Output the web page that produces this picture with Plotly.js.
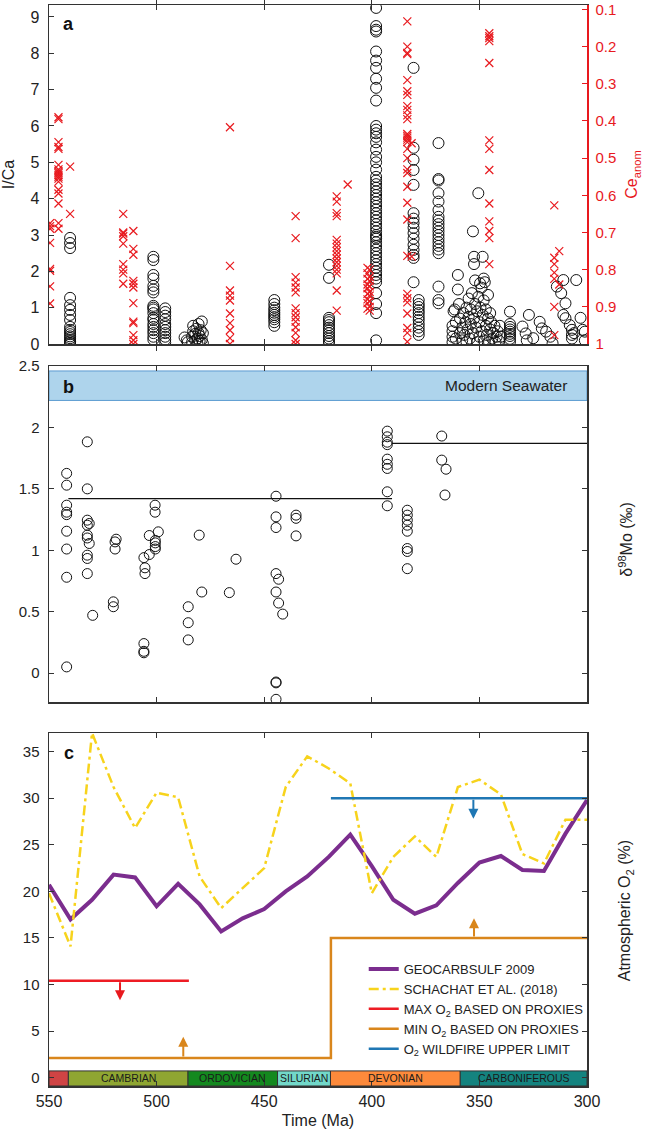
<!DOCTYPE html>
<html><head><meta charset="utf-8">
<script src="https://cdn.plot.ly/plotly-3.0.1.min.js"></script>
<style>html,body{margin:0;padding:0;background:#fff}#chart{width:647px;height:1132px}</style>
</head><body><div id="chart"></div>
<script>
// ---------------- Panel a: I/Ca (open circles, left axis) ----------------
const icaColumnAges = [540.2, 501.5, 496.0, 445.3, 419.9, 398.0, 380.6, 378.2, 369.0, 335.8];
const icaColumnValues = [
  [2.92,2.78,2.64,1.27,1.07,0.94,0.80,0.66,0.47,0.39,0.33,0.27,0.21,0.16,0.11,0.07,0.03,0.0],
  [2.40,2.31,1.90,1.80,1.60,1.50,1.42,1.05,1.00,0.95,0.85,0.72,0.66,0.55,0.47,0.38,0.30,0.20,0.12],
  [0.98,0.88,0.78,0.68,0.55,0.47,0.38,0.30,0.20,0.12,0.04],
  [1.21,1.10,1.00,0.93,0.86,0.80,0.74,0.68,0.60,0.50],
  [2.18,1.82,0.72,0.66,0.60,0.52,0.45,0.38,0.30,0.22,0.15,0.08,0.02],
  [9.25,8.75,8.65,8.60,8.05,7.80,7.60,7.30,7.05,6.70,6.00,5.90,5.80,5.70,5.55,5.35,5.15,5.00,4.80,4.60,4.50,4.40,4.30,4.20,4.10,4.00,3.90,3.80,3.70,3.60,3.50,3.40,3.30,3.20,3.10,3.00,2.95,2.90,2.80,2.70,2.60,2.50,2.40,2.30,2.20,2.10,2.00,1.90,1.80,1.70,1.40,1.10,0.85,0.10],
  [7.60,5.40,5.07,4.79,4.38,3.60,3.45,3.33,3.20,3.05,2.90,2.73,2.59,2.45,2.37,1.70],
  [1.21,1.10,1.02,0.93,0.85,0.75,0.66,0.55,0.45,0.35,0.25],
  [5.53,4.54,4.50,4.15,3.92,3.69,3.50,3.40,3.30,3.20,3.10,3.00,2.90,2.80,2.70,2.60,2.50,1.58,1.21,1.12],
  [0.89,0.55,0.47,0.40,0.34,0.28,0.22,0.14,0.06]
];
const icaScatterAges = [
  487,486,485.5,483.5,483.5,483,483,482,482,481.5,481,481,480.5,480.5,480,480,479.5,479,479,478.5,478.5,
  362.5,362.5,362.5,362.5,362,361.5,361,361,360,360,359.5,359,359,358,358,357.5,357,356.5,356,356,355.5,355,355,354.5,354,354,353.5,353,353,352.5,352.5,352.5,352,352,351.5,351,351,350.5,350.5,350,350,349.7,349.5,349,349,348.5,348.5,348,348,348,347.5,347,347,346.5,346,346,345.5,345,345,344.5,344,343.5,343,342.5,342,341.5,341,340.5,340,
  330,328.5,327,328,325,322,321,319,317,316,314,312,311,310,311,310,308,307,307,307,306,305,303,302,301,301
];
const icaScatterValues = [
  0.18,0.10,0.05,0.05,0.20,0.35,0.50,0.10,0.28,0.42,0.0,0.15,0.30,0.55,0.08,0.22,0.38,0.62,0.12,0.02,0.30,
  0.05,0.20,0.35,0.50,0.90,0.95,0.60,0.15,1.90,1.50,1.10,0.30,0.70,0.45,0.10,0.85,0.25,0.60,1.00,0.05,0.40,0.75,1.25,0.15,0.55,0.95,1.40,3.10,0.30,0.70,2.20,2.40,1.10,1.75,0.45,0.05,0.90,4.15,1.30,0.60,0.20,1.67,1.00,1.55,0.35,2.40,0.80,1.20,0.10,1.80,1.70,0.50,0.95,0.25,0.70,1.35,0.05,0.40,0.85,0.60,0.15,0.30,0.50,0.05,0.20,0.35,0.10,0.50,0.20,
  0.48,0.29,0.80,0.10,0.16,0.61,0.43,0.34,0.20,0.02,1.58,1.40,1.76,1.12,0.80,0.71,0.52,0.39,0.25,0.15,0.30,1.76,0.72,0.39,0.34,0.10
];

// ---------------- Panel a: Ce anomaly (red crosses, right axis, reversed) ----------------
const ceColumnAges = [549.5, 545.6, 540.2, 515.5, 510.8, 465.9, 435.4, 416.3, 402.0, 401.0, 383.5, 345.4, 315.2];
const ceColumnValues = [
  [0.675,0.683,0.69,0.728,0.798,0.803,0.845,0.891],
  [0.39,0.395,0.457,0.47,0.475,0.518,0.53,0.535,0.54,0.545,0.55,0.555,0.563,0.585,0.595,0.622,0.675,0.69],
  [0.523,0.65],
  [0.65,0.70,0.703,0.71,0.73,0.785,0.80,0.81,0.838],
  [0.696,0.744,0.76,0.83,0.838,0.848,0.89,0.94,0.944,0.976,0.99,1.0],
  [0.417,0.79,0.856,0.87,0.883,0.918,0.944,0.963,0.984,1.0],
  [0.656,0.715,0.82,0.835,0.848,0.861,0.904,0.917,0.928,0.94,0.955,0.97,0.99,1.0],
  [0.603,0.617,0.648,0.656,0.72,0.73,0.74,0.75,0.76,0.77,0.78,0.79,0.80,0.81,0.856,0.91],
  [0.795,0.81,0.825,0.84,0.85,0.865,0.88,0.89,0.905],
  [0.80,0.82,0.83,0.845,0.86,0.87,0.885,0.90,0.91],
  [0.132,0.2,0.217,0.22,0.29,0.32,0.33,0.36,0.37,0.385,0.395,0.435,0.44,0.445,0.45,0.457,0.475,0.50,0.53,0.54,0.577,0.62,0.665,0.763,0.865,0.877,0.888,0.918,0.957,0.97,0.994],
  [0.164,0.172,0.177,0.185,0.244,0.452,0.475,0.532,0.622,0.67,0.696,0.715,0.785],
  [0.627,0.768,0.785,0.808,0.825,0.90,0.976]
];
const ceScatterAges = [411.2, 381.5, 381.5, 312.9, 312.9];
const ceScatterValues = [0.571, 0.46, 0.765, 0.75, 0.84];
const ceTicks = [0.1,0.2,0.3,0.4,0.5,0.6,0.7,0.8,0.9,1];

// ---------------- Panel b: Mo isotopes ----------------
const moAges = [
  541.8,541.8,541.8,541.8,541.8,541.8,541.8,541.8,541.8,
  532.2,532.2,532.2,532.2,532.2,532.2,532.2,532.2,532.2,531.3,531.3,529.7,
  520.1,520.1,519.3,519.3,518.8,
  505.9,505.9,505.9,505.9,505.4,505.4,503.4,503.4,500.7,500.7,500.6,500.6,500.6,500.6,499.2,
  485.3,485.3,485.3,480.2,479.0,466.2,463.1,
  444.5,444.5,444.5,444.5,444.5,444.5,444.5,444.5,443.3,443.3,441.4,435.2,435.2,435.2,
  392.8,392.8,392.8,392.8,392.8,392.8,392.8,392.8,392.8,
  383.5,383.5,383.5,383.5,383.5,383.5,383.5,383.5,
  367.5,367.5,365.5,366.0
];
const moValues = [
  1.626,1.53,1.367,1.31,1.29,1.155,1.01,0.78,0.05,
  1.883,1.50,1.245,1.204,1.123,1.10,0.96,0.933,0.81,1.218,1.055,0.47,
  0.58,0.54,1.01,1.068,1.09,
  0.24,0.177,0.165,0.94,0.857,0.81,0.965,1.12,1.367,1.31,1.08,1.06,1.03,1.01,1.15,
  0.54,0.41,0.27,1.123,0.66,0.655,0.927,
  1.44,1.272,1.185,0.81,0.66,-0.073,-0.08,-0.214,0.764,0.57,0.48,1.286,1.26,1.117,
  1.97,1.924,1.88,1.86,1.742,1.70,1.666,1.476,1.362,
  1.326,1.286,1.245,1.204,1.155,1.014,0.99,0.85,
  1.93,1.734,1.66,1.45
];
const moMeanStart = [541.0, 390.6];
const moMeanEnd = [390.6, 300.0];
const moMeanValue = [1.42, 1.87];
const modernSeawater = [2.22, 2.46];

// ---------------- Panel c: atmospheric O2 ----------------
const o2Ages = [550,540,530,520,510,500,490,480,470,460,450,440,430,420,410,400,390,380,370,360,350,340,330,320,310,300];
const geocarbsulf = [20.7,17.0,19.1,21.8,21.5,18.4,20.8,18.6,15.7,17.1,18.1,20.0,21.6,23.7,26.1,22.7,19.1,17.6,18.5,20.9,23.1,23.8,22.3,22.2,26.2,29.8];
const schachat = [19.8,14.1,37.0,31.2,26.8,30.6,30.1,21.6,18.2,20.3,22.5,31.2,34.5,33.2,31.6,19.8,23.7,25.9,23.7,31.2,32.0,30.4,24.0,23.0,27.7,27.7];
const maxO2Ages = [550, 485];
const maxO2 = [10.4, 10.4];
const minO2Ages = [550, 419, 419, 300];
const minO2 = [2.1, 2.1, 15.0, 15.0];
const wildfireAges = [419, 300];
const wildfire = [30, 30];
// arrows: age, start value, end value
const arrowAges = [517, 487.6, 352.5, 352.8];
const arrowFrom = [10.4, 2.1, 15.0, 30.0];
const arrowTo = [8.3, 4.4, 17.1, 27.8];
const periodNames = ['', 'CAMBRIAN', 'ORDOVICIAN', 'SILURIAN', 'DEVONIAN', 'CARBONIFEROUS'];
const periodStart = [550, 541, 485.4, 443.8, 419.2, 358.9];
const periodEnd = [541, 485.4, 443.8, 419.2, 358.9, 300];

// ---------------- styles ----------------
const periodColors = ['#cf4444', '#8fa632', '#14891f', '#72d8c9', '#fd8a3b', '#14837f'];
const arrowColors = ['#e8191e', '#d9861c', '#d9861c', '#1f77b4'];
const RED = '#e8191e';
const FRAME = '#333';

const icaX = [], icaY = [];
icaColumnAges.forEach((a, i) => icaColumnValues[i].forEach(v => { icaX.push(a); icaY.push(v); }));
icaScatterAges.forEach((a, i) => { icaX.push(a); icaY.push(icaScatterValues[i]); });
const ceX = [], ceY = [];
ceColumnAges.forEach((a, i) => ceColumnValues[i].forEach(v => { ceX.push(a); ceY.push(v); }));
ceScatterAges.forEach((a, i) => { ceX.push(a); ceY.push(ceScatterValues[i]); });

const mx = [], my = [];
moMeanStart.forEach((s, i) => { mx.push(s, moMeanEnd[i], null); my.push(moMeanValue[i], moMeanValue[i], null); });

const traces = [
  {type:'scatter', mode:'markers', x:icaX, y:icaY, xaxis:'x', yaxis:'y', showlegend:false, hoverinfo:'skip',
   marker:{symbol:'circle-open', size:11, color:'#111', line:{width:1}}},
  {type:'scatter', mode:'markers', x:ceX, y:ceY, xaxis:'x', yaxis:'y4', showlegend:false, hoverinfo:'skip',
   marker:{symbol:'x-thin-open', size:8, color:RED, line:{width:1.2, color:RED}}},
  {type:'scatter', mode:'lines', x:mx, y:my, xaxis:'x2', yaxis:'y2', showlegend:false, hoverinfo:'skip',
   line:{color:'#111', width:1.2}},
  {type:'scatter', mode:'markers', x:moAges, y:moValues, xaxis:'x2', yaxis:'y2', showlegend:false, hoverinfo:'skip',
   marker:{symbol:'circle-open', size:10, color:'#111', line:{width:1}}},
  {type:'scatter', mode:'lines', name:'GEOCARBSULF 2009', x:o2Ages, y:geocarbsulf, xaxis:'x3', yaxis:'y3',
   line:{color:'#7b2d8e', width:4}},
  {type:'scatter', mode:'lines', name:'SCHACHAT ET AL. (2018)', x:o2Ages, y:schachat, xaxis:'x3', yaxis:'y3',
   line:{color:'#f7d31c', width:2.5, dash:'10px,4px,3px,4px'}},
  {type:'scatter', mode:'lines', name:'MAX O<sub>2</sub> BASED ON PROXIES', x:maxO2Ages, y:maxO2, xaxis:'x3', yaxis:'y3',
   line:{color:'#ee1c24', width:2.5}},
  {type:'scatter', mode:'lines', name:'MIN O<sub>2</sub> BASED ON PROXIES', x:minO2Ages, y:minO2, xaxis:'x3', yaxis:'y3',
   line:{color:'#d9861c', width:2.5}},
  {type:'scatter', mode:'lines', name:'O<sub>2</sub> WILDFIRE UPPER LIMIT', x:wildfireAges, y:wildfire, xaxis:'x3', yaxis:'y3',
   line:{color:'#1f77b4', width:2.5}}
];

const xCommon = {range:[550,300], autorange:false, showgrid:false, zeroline:false, showline:true,
  linecolor:FRAME, linewidth:1.5, mirror:'allticks', ticks:'inside', ticklen:5, tickcolor:FRAME, tickwidth:1,
  tick0:300, dtick:50};
const yCommon = {showgrid:false, zeroline:false, showline:true, linecolor:FRAME, linewidth:1.5,
  ticks:'inside', ticklen:5, tickcolor:FRAME, tickwidth:1, tickfont:{size:15, color:'#222'}, ticklabelstandoff:5};

const shapes = [];
const annotations = [];
// modern seawater band
shapes.push({type:'rect', xref:'x2', yref:'y2', x0:550, x1:300, y0:modernSeawater[0], y1:modernSeawater[1],
  fillcolor:'#aed4ec', line:{color:'#5b9bd0', width:1}, layer:'below'});
annotations.push({xref:'x2', yref:'y2', x:308.5, y:(modernSeawater[0]+modernSeawater[1])/2, text:'Modern Seawater',
  showarrow:false, xanchor:'right', yanchor:'middle', font:{size:15.5, color:'#222'}});
// period bar
periodNames.forEach((n, i) => {
  shapes.push({type:'rect', xref:'x3', yref:'y3', x0:periodStart[i], x1:periodEnd[i], y0:-0.9, y1:0.72,
    fillcolor:periodColors[i], line:{color:'#333', width:1}, layer:'below'});
  if (n) annotations.push({xref:'x3', yref:'y3', x:(periodStart[i]+periodEnd[i])/2, y:-0.09, text:n, showarrow:false,
    font:{size:10.5, color:'#1a1a1a'}, yanchor:'middle'});
});
// arrows
arrowAges.forEach((a, i) => {
  annotations.push({xref:'x3', yref:'y3', axref:'x3', ayref:'y3', x:a, y:arrowTo[i], ax:a, ay:arrowFrom[i], text:'',
    showarrow:true, arrowhead:2, arrowsize:1, arrowwidth:2, arrowcolor:arrowColors[i], standoff:0, startstandoff:0});
});
// panel letters
[['a', 0.982], ['b', 0.6466], ['c', 0.308]].forEach(([t, y]) => {
  annotations.push({xref:'paper', yref:'paper', x:0.037, y:y, text:'<b>'+t+'</b>', showarrow:false,
    xanchor:'center', yanchor:'middle', font:{size:18, color:'#111'}});
});
// right-hand titles
annotations.push({xref:'paper', yref:'paper', x:1.072, y:0.506, text:'δ<sup>98</sup>Mo (‰)', textangle:-90,
  showarrow:false, xanchor:'center', yanchor:'middle', font:{size:16, color:'#222'}});
annotations.push({xref:'paper', yref:'paper', x:1.072, y:0.1623, text:'Atmospheric O<sub>2</sub> (%)', textangle:-90,
  showarrow:false, xanchor:'center', yanchor:'middle', font:{size:16, color:'#222'}});

const layout = {
  width:647, height:1132,
  margin:{l:49, r:60, t:5, b:46},
  paper_bgcolor:'#fff', plot_bgcolor:'#fff',
  font:{family:'Liberation Sans, Arial, sans-serif', size:15, color:'#222'},
  showlegend:true,
  legend:{x:0.585, y:0.122, xanchor:'left', yanchor:'top', bgcolor:'rgba(0,0,0,0)', font:{size:13, color:'#222'},
    traceorder:'normal', itemwidth:30},
  xaxis:Object.assign({}, xCommon, {anchor:'y', domain:[0,1], showticklabels:false}),
  xaxis2:Object.assign({}, xCommon, {anchor:'y2', domain:[0,1], matches:'x', showticklabels:false}),
  xaxis3:Object.assign({}, xCommon, {anchor:'y3', domain:[0,1], matches:'x', showticklabels:true,
    tickfont:{size:16, color:'#222'}, title:{text:'Time (Ma)', font:{size:16, color:'#222'}, standoff:6}}),
  yaxis:Object.assign({}, yCommon, {domain:[0.6864,1], range:[0,9.33], tick0:0, dtick:1, mirror:false,
    tickfont:{size:16, color:'#222'}, title:{text:'I/Ca', font:{size:16, color:'#222'}}}),
  yaxis4:{overlaying:'y', anchor:'x', side:'right', range:[1.0,0.088], tickmode:'array', tickvals:ceTicks,
    ticktext:ceTicks.map(String), showgrid:false, zeroline:false,
    showline:true, linecolor:RED, linewidth:1.5, ticks:'inside', ticklen:5, tickcolor:RED, tickwidth:1,
    tickfont:{size:15, color:RED}, ticklabelstandoff:4,
    title:{text:'Ce<sub>anom</sub>', font:{size:16, color:RED}}},
  yaxis2:Object.assign({}, yCommon, {domain:[0.3552,0.6660], range:[-0.236,2.5], tick0:0, dtick:0.5, mirror:'allticks'}),
  yaxis3:Object.assign({}, yCommon, {domain:[0,0.3265], range:[-0.9,37], tick0:0, dtick:5, mirror:'allticks'}),
  shapes:shapes,
  annotations:annotations
};

Plotly.newPlot('chart', traces, layout, {displayModeBar:false, staticPlot:true});
</script>
</body></html>
